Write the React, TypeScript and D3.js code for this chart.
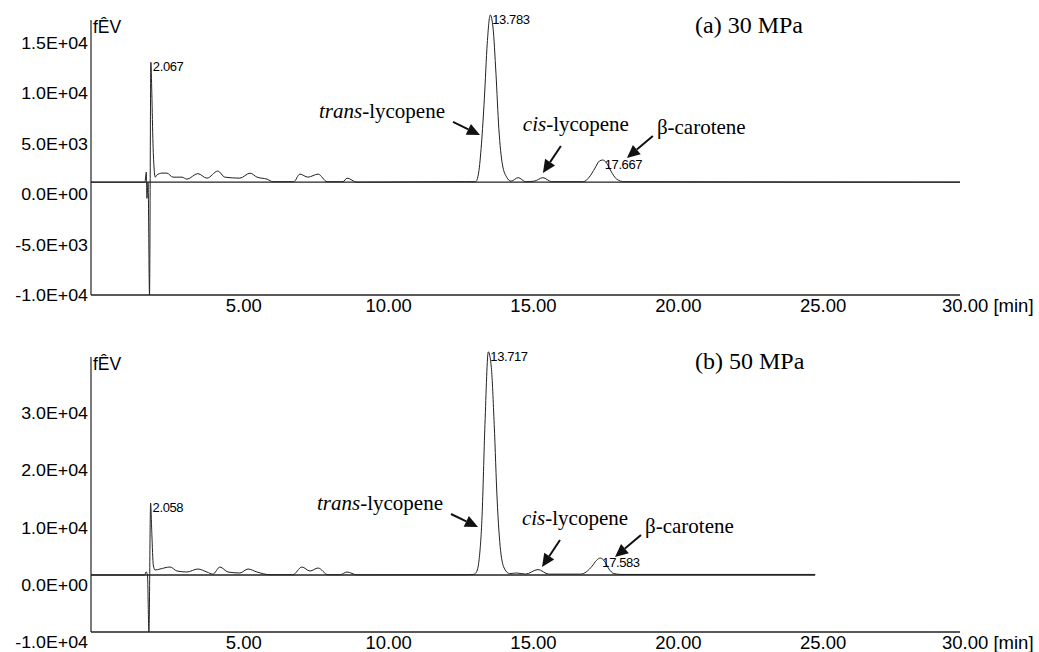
import React from "react";
import * as d3 from "d3";

// ---------- data ----------
const xTicks = [5, 10, 15, 20, 25, 30];
const yTicksA = [15000, 10000, 5000, 0, -5000, -10000];
const yTicksB = [30000, 20000, 10000, 0, -10000];

const timesA = [0, 1.86, 1.91, 1.93, 1.97, 2.02, 2.067, 2.1, 2.14, 2.18, 2.22, 2.27, 2.45, 2.62, 2.83, 3.14, 3.31, 3.69, 4.0, 4.38, 4.62, 5.14, 5.49, 5.73, 6.08, 6.28, 7.0, 7.21, 7.49, 7.84, 8.15, 8.7, 8.84, 9.18, 12.9, 13.28, 13.38, 13.48, 13.58, 13.68, 13.783, 13.88, 13.98, 14.08, 14.2, 14.35, 14.5, 14.75, 15.0, 15.3, 15.6, 15.9, 17.0, 17.2, 17.4, 17.55, 17.667, 17.8, 17.95, 18.15, 18.4, 30];
const signalA = [1200, 1200, 2200, -400, 1200, -10000, 13100, 10000, 5000, 2500, 1700, 1900, 2100, 2100, 1700, 1700, 1500, 2050, 1600, 2300, 1700, 1600, 2100, 1700, 1500, 1250, 1250, 2000, 1700, 2000, 1250, 1250, 1600, 1200, 1250, 1250, 2100, 5000, 9500, 15000, 17800, 16500, 12000, 6500, 3000, 1700, 1300, 1650, 1250, 1300, 1650, 1250, 1250, 1700, 2600, 3300, 3400, 3100, 2300, 1500, 1250, 1200];
const baselineA = 1200;
const peakTimesA = [2.067, 13.783, 17.667];

const timesB = [0, 1.85, 1.9, 1.95, 2.0, 2.058, 2.1, 2.15, 2.21, 2.38, 2.73, 2.97, 3.31, 3.69, 4.0, 4.21, 4.45, 4.73, 5.14, 5.42, 5.73, 6.18, 6.97, 7.28, 7.56, 7.84, 8.18, 8.6, 8.84, 9.18, 13.0, 13.2, 13.3, 13.4, 13.5, 13.6, 13.717, 13.82, 13.92, 14.02, 14.14, 14.28, 14.45, 14.7, 15.0, 15.43, 15.8, 16.9, 17.1, 17.3, 17.45, 17.583, 17.72, 17.88, 18.05, 18.3, 25];
const signalB = [1750, 1750, 2300, 1750, -8200, 14300, 9000, 3500, 2620, 2795, 3144, 2445, 2271, 2795, 2271, 1900, 3144, 2271, 2100, 2795, 2271, 1800, 1800, 3144, 2445, 2969, 1800, 1800, 2271, 1780, 1800, 1850, 2200, 4500, 12000, 28000, 40700, 38000, 28000, 15000, 6000, 2800, 2000, 2100, 1900, 2700, 1900, 1900, 2300, 3300, 4300, 4700, 4200, 2800, 2000, 1850, 1850];
const baselineB = 1750;
const peakTimesB = [2.058, 13.717, 17.583];

// annotation targets (t, value) of arrow tips
const annotNames = ["trans", "cis", "beta"];
const annotTipsA = [[13.43, 5890], [15.6, 2115], [18.5, 3604]];
const annotTipsB = [[13.36, 10131], [15.57, 3144], [18.09, 4890]];

const titles = ["(a) 30 MPa", "(b) 50 MPa"];
const unitLabel = "fÊV";

// ---------- layout ----------
const W = 1039;
const H = 652;
const X0 = 91;
const X1 = 960;

const panels = [
  { times: timesA, signal: signalA, baseline: baselineA, tEnd: 30, peaks: peakTimesA, yTicks: yTicksA, yDomain: [-10000, 17300], yRange: [295, 20], tips: annotTipsA, title: titles[0], titleY: 33, unitY: 33 },
  { times: timesB, signal: signalB, baseline: baselineB, tEnd: 25, peaks: peakTimesB, yTicks: yTicksB, yDomain: [-8200, 39800], yRange: [632, 357], tips: annotTipsB, title: titles[1], titleY: 369, unitY: 370 },
];

// text offsets relative to arrow tip (px)
const annotLayout: Record<string, any> = {
  trans: { tail: [-27, -13], text: [-35, -17], anchor: "end" },
  cis: { tail: [18, -27], text: [33, -42], anchor: "middle" },
  beta: { tail: [26, -22], text: [30, -24], anchor: "start" },
};

function fmtSci(v: number) {
  if (v === 0) return "0.0E+00";
  const s = v < 0 ? "-" : "";
  const a = Math.abs(v);
  const e = Math.floor(Math.log10(a));
  const m = a / Math.pow(10, e);
  return `${s}${m.toFixed(1)}E${e >= 0 ? "+" : "-"}${String(Math.abs(e)).padStart(2, "0")}`;
}

const sans = "'Liberation Sans', Arial, sans-serif";
const serif = "'Liberation Serif', 'Times New Roman', serif";

function Panel({ p }: { p: any }) {
  const x = d3.scaleLinear().domain([0, 30]).range([X0, X1]);
  const y = d3.scaleLinear().domain(p.yDomain).range(p.yRange);
  const pts = p.times.map((t: number, i: number) => [t, p.signal[i]] as [number, number]);
  const line = d3
    .line<[number, number]>()
    .x((d) => x(d[0]))
    .y((d) => y(d[1]))
    .curve(d3.curveMonotoneX);
  const yBottom = p.yRange[0];
  const yTop = p.yRange[1];

  return (
    <g>
      {/* axes */}
      <line x1={X0} x2={X0} y1={yTop} y2={yBottom} stroke="#222" strokeWidth={1.2} />
      <line x1={X0} x2={X1} y1={yBottom} y2={yBottom} stroke="#222" strokeWidth={1.4} />
      {p.yTicks.map((v: number) => (
        <g key={v} transform={`translate(88,${y(v)}) scale(1.08,1)`}>
          <text x={0} y={0} dy="0.36em" textAnchor="end" fontFamily={sans} fontSize={16.5} fill="#000">
            {fmtSci(v)}
          </text>
        </g>
      ))}
      {xTicks.map((t) =>
        t === 30 ? (
          <text key={t} x={x(t) - 18} y={yBottom + 17} textAnchor="start" fontFamily={sans} fontSize={18.5} fill="#000">
            {t.toFixed(2)} [min]
          </text>
        ) : (
          <text key={t} x={x(t) + 8} y={yBottom + 17} textAnchor="middle" fontFamily={sans} fontSize={18.5} fill="#000">
            {t.toFixed(2)}
          </text>
        )
      )}
      <text x={93} y={p.unitY} fontFamily={sans} fontSize={17.5} fill="#000">{unitLabel}</text>
      <text x={695} y={p.titleY} fontFamily={serif} fontSize={24} fill="#000">{p.title}</text>

      {/* baseline + signal */}
      <line x1={x(0)} x2={x(p.tEnd)} y1={y(p.baseline)} y2={y(p.baseline)} stroke="#222" strokeWidth={1.3} />
      <path d={line(pts) || ""} fill="none" stroke="#222" strokeWidth={1} />

      {/* peak labels */}
      {p.peaks.map((t: number) => {
        const i = p.times.indexOf(t);
        const v = p.signal[i];
        return (
          <text key={t} x={x(t) + 2} y={y(v) + 9} fontFamily={sans} fontSize={13} letterSpacing={-0.4} fill="#000">
            {t.toFixed(3)}
          </text>
        );
      })}

      {/* annotations */}
      {annotNames.map((name, i) => {
        const [tt, vv] = p.tips[i];
        const tx = x(tt);
        const ty = y(vv);
        const L = annotLayout[name];
        const sx = tx + L.tail[0];
        const sy = ty + L.tail[1];
        const ang = Math.atan2(ty - sy, tx - sx);
        const hl = 13;
        const hw = 6;
        const bx = tx - hl * Math.cos(ang);
        const by = ty - hl * Math.sin(ang);
        const px = -Math.sin(ang) * hw;
        const py = Math.cos(ang) * hw;
        return (
          <g key={name}>
            <line x1={sx} y1={sy} x2={bx} y2={by} stroke="#111" strokeWidth={2} />
            <polygon points={`${tx},${ty} ${bx + px},${by + py} ${bx - px},${by - py}`} fill="#111" />
            <text x={tx + L.text[0]} y={ty + L.text[1]} textAnchor={L.anchor} fontFamily={serif} fontSize={21} fill="#000">
              {name === "trans" && (
                <>
                  <tspan fontStyle="italic">trans</tspan>-lycopene
                </>
              )}
              {name === "cis" && (
                <>
                  <tspan fontStyle="italic">cis</tspan>-lycopene
                </>
              )}
              {name === "beta" && <>β-carotene</>}
            </text>
          </g>
        );
      })}
    </g>
  );
}

export default function App() {
  return (
    <svg
      width={W}
      height={H}
      viewBox={`0 0 ${W} ${H}`}
      style={{ position: "absolute", left: 0, top: 0, display: "block", background: "#fff" }}
    >
      <rect width={W} height={H} fill="#fff" />
      {panels.map((p, i) => (
        <Panel key={i} p={p} />
      ))}
    </svg>
  );
}
